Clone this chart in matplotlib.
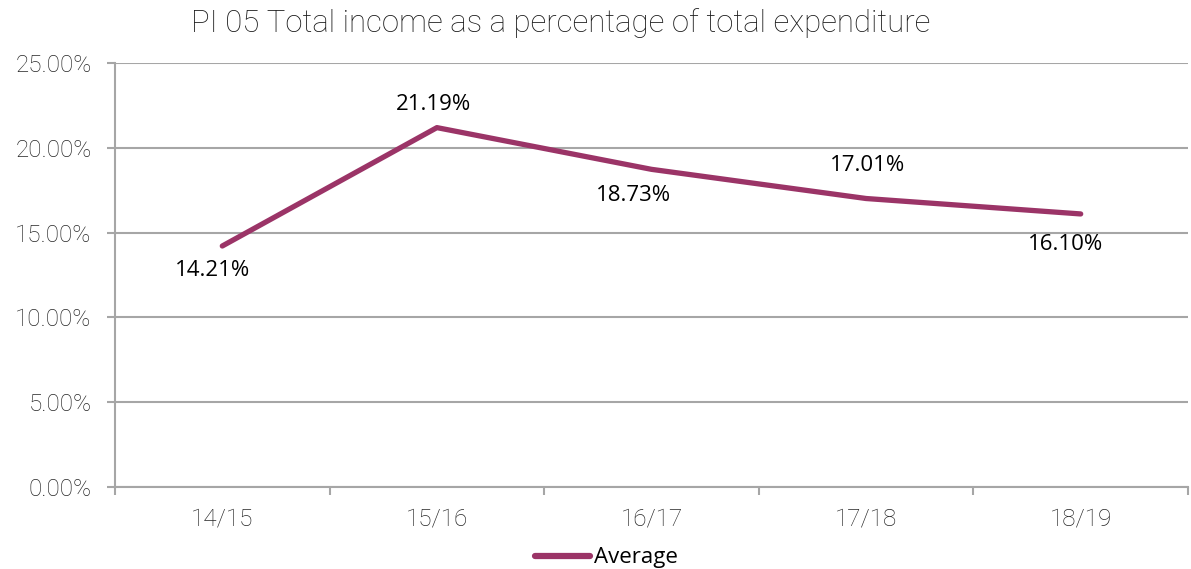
import matplotlib
matplotlib.use("Agg")
import matplotlib.pyplot as plt
import numpy as np

years = ["14/15", "15/16", "16/17", "17/18", "18/19"]
average = [14.21, 21.19, 18.73, 17.01, 16.10]
yticks = [0, 5, 10, 15, 20, 25]
# label offsets in pixels (dx, dy) relative to each point
label_offsets = [(-10, -25), (-3, 23), (-18, -26), (1, 33), (-15, -31)]

LINE_COL = "#9b3467"
GRID_COL = "#a6a6a6"
TXT_COL = "#262626"


def main():
    fig = plt.figure(figsize=(11.91, 5.69), dpi=100)
    ax = fig.add_axes([115 / 1191, 1 - 487 / 569, (1188 - 115) / 1191, (487 - 63) / 569])

    x = np.arange(len(years))
    ax.plot(x, average, color=LINE_COL, lw=3.8, solid_capstyle="round", zorder=3)

    for xi, v, (dx, dy) in zip(x, average, label_offsets):
        ax.annotate(f"{v:.2f}%", (xi, v), xytext=(dx * 0.72, dy * 0.72),
                    textcoords="offset points", ha="center", va="center",
                    fontsize=16, family="Open Sans", color="black")

    ax.set_xlim(-0.5, len(years) - 0.5)
    ax.set_ylim(0, 25)
    ax.set_yticks(yticks)
    ax.set_yticklabels([f"{t:.2f}%" for t in yticks], family="Roboto", fontweight="light",
                       fontsize=17.5, color=TXT_COL)
    ax.set_xticks(x)
    ax.set_xticklabels(years, family="Roboto", fontweight="light", fontsize=17.5, color=TXT_COL)
    ax.set_xticks(np.arange(len(years) + 1) - 0.5, minor=True)
    ax.tick_params(axis="x", which="major", length=0, pad=15)
    ax.tick_params(axis="x", which="minor", length=5.5, color=GRID_COL, width=1.5)
    ax.tick_params(axis="y", length=5.8, color=GRID_COL, width=1.5, pad=11)

    ax.grid(axis="y", color=GRID_COL, lw=1.5)
    ax.set_axisbelow(True)
    for s in ["top", "right"]:
        ax.spines[s].set_visible(False)
    for s in ["left", "bottom"]:
        ax.spines[s].set_color(GRID_COL)
        ax.spines[s].set_linewidth(1.5)

    fig.text(561 / 1191, 1 - 23 / 569, "PI 05 Total income as a percentage of total expenditure",
             ha="center", va="center", family="Roboto", fontweight="light", fontsize=22.4,
             color="#1a1a1a")

    leg = ax.legend(["Average"], loc="center", bbox_to_anchor=(0.4576, -0.167),
                    frameon=False, handlelength=2.5, handletextpad=0.15,
                    prop={"family": "Open Sans", "size": 16})
    for line in leg.get_lines():
        line.set_linewidth(4.5)
        line.set_solid_capstyle("round")

    fig.savefig("out.png", dpi=100, facecolor="white")


if __name__ == "__main__":
    main()
